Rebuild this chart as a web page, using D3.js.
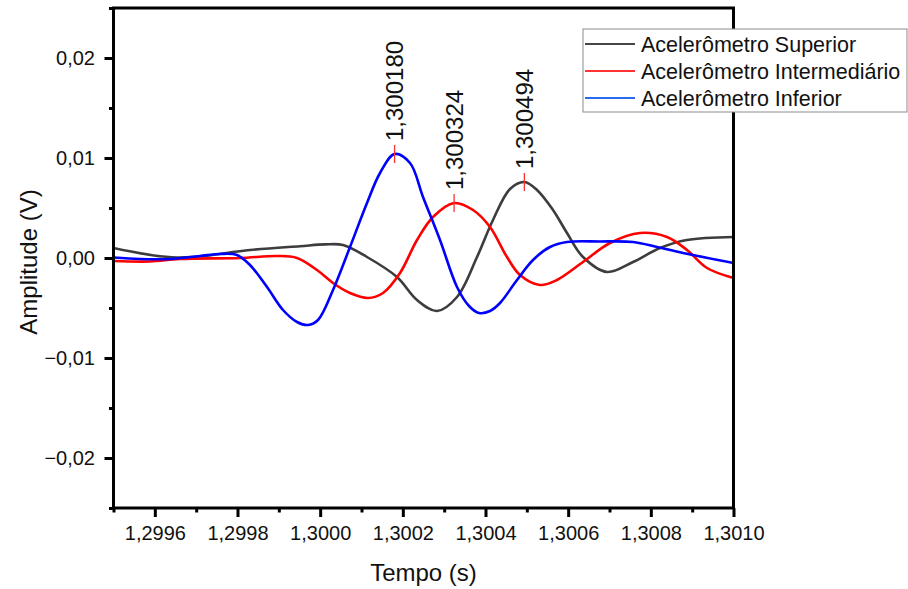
<!DOCTYPE html>
<html>
<head>
<meta charset="utf-8">
<script src="https://cdn.jsdelivr.net/npm/d3@7"></script>
<style>
  html, body { margin: 0; padding: 0; background: #fff; }
  svg { display: block; font-family: "Liberation Sans", Arial, sans-serif; }
</style>
</head>
<body>
<svg id="chart" width="908" height="589"></svg>
<script>
// ---- Data ----
const seriesNames = ["Acelerômetro Superior", "Acelerômetro Intermediário", "Acelerômetro Inferior"];

const supTime = [1.2995, 1.2996536, 1.2998302, 1.2999512, 1.3000117, 1.3000553, 1.3001133, 1.3001859, 1.3002343, 1.3002827, 1.3003311, 1.3003795, 1.3004181, 1.3004593, 1.300494, 1.3005246, 1.3005633, 1.3005972, 1.3006359, 1.300694, 1.3007569, 1.3008222, 1.3008875, 1.3010];
const supAmp  = [0.0010, 0.00005, 0.0008, 0.00118, 0.00136, 0.0013, 0.0001, -0.0019, -0.0042, -0.0053, -0.0039, 0.0001, 0.0038, 0.0069, 0.0076, 0.0068, 0.0048, 0.0025, 0.0001, -0.0014, -0.0004, 0.0010, 0.0018, 0.0021];

const intTime = [1.2995, 1.2995883, 1.2996609, 1.2998061, 1.2998956, 1.299944, 1.2999923, 1.3000311, 1.3000722, 1.3001157, 1.300152, 1.3001932, 1.3002343, 1.300273, 1.300324, 1.3003698, 1.3004109, 1.300452, 1.3004835, 1.3005319, 1.300573, 1.3006359, 1.3007012, 1.3007739, 1.3008391, 1.3008875, 1.3009359, 1.3010];
const intAmp  = [-0.0003, -0.00035, -0.0001, 0.0, 0.0002, 0.0, -0.0012, -0.0025, -0.0035, -0.0040, -0.0035, -0.0015, 0.0018, 0.0041, 0.0055, 0.0048, 0.0031, 0.0001, -0.0017, -0.0027, -0.0022, -0.0004, 0.0015, 0.0025, 0.0021, 0.0008, -0.0010, -0.0020];

const infTime = [1.2995, 1.2995641, 1.2996367, 1.2997093, 1.2997577, 1.2997988, 1.2998302, 1.2998714, 1.2999101, 1.299944, 1.2999706, 1.2999948, 1.3000311, 1.3000722, 1.3001133, 1.3001448, 1.300180, 1.3002174, 1.3002488, 1.3002899, 1.3003311, 1.3003601, 1.3003843, 1.3004109, 1.3004351, 1.3004762, 1.300515, 1.3005561, 1.3005972, 1.300677, 1.3007569, 1.3008149, 1.3008778, 1.3010];
const infAmp  = [0.00005, -0.0001, -0.0001, 0.0002, 0.0004, 0.0003, -0.0007, -0.0029, -0.0052, -0.0064, -0.0067, -0.0062, -0.0032, 0.0011, 0.0055, 0.0085, 0.0104, 0.0095, 0.0061, 0.0018, -0.0029, -0.0048, -0.0055, -0.0053, -0.0045, -0.0022, -0.0002, 0.0011, 0.0016, 0.00165, 0.0016, 0.0011, 0.0005, -0.0005];

const peakTimes  = [1.300180, 1.300324, 1.300494];
const peakAmps   = [0.0104, 0.0055, 0.0076];
const peakLabels = ["1,300180", "1,300324", "1,300494"];

const xTicks = [1.2996, 1.2998, 1.3000, 1.3002, 1.3004, 1.3006, 1.3008, 1.3010];
const xMinorTicks = [1.2995, 1.2997, 1.2999, 1.3001, 1.3003, 1.3005, 1.3007, 1.3009];
const yTicks = [-0.02, -0.01, 0.00, 0.01, 0.02];
const yMinorTicks = [-0.025, -0.015, -0.005, 0.005, 0.015, 0.025];

const xTitle = "Tempo (s)";
const yTitle = "Amplitude (V)";

// ---- Setup ----
(function () {
const colors = ["#3d3d3d", "#ff0000", "#0000ff"];
const legendColors = ["#474747", "#ff3333", "#2a6cf0"];

const svg = d3.select("#chart");
const pL = 113.5, pR = 733.5, pT = 8, pB = 508;

const x = d3.scaleLinear().domain([1.2995, 1.3010]).range([pL, pR]);
const y = d3.scaleLinear().domain([-0.025, 0.025]).range([pB, pT]);

const loc = d3.formatLocale({decimal: ",", thousands: ".", grouping: [3], currency: ["", ""], minus: "\u2212"});
const fx = loc.format(".4f");
const fy = loc.format(".2f");

svg.append("defs").append("clipPath").attr("id", "clip")
  .append("rect").attr("x", pL).attr("y", pT).attr("width", pR - pL).attr("height", pB - pT);

const series = [
  {t: supTime, v: supAmp},
  {t: intTime, v: intAmp},
  {t: infTime, v: infAmp}
];
const line = d3.line().x(d => x(d[0])).y(d => y(d[1])).curve(d3.curveCatmullRom.alpha(0.5));
const g = svg.append("g").attr("clip-path", "url(#clip)");
series.forEach((s, i) => {
  const pts = s.t.map((t, k) => [t, s.v[k]]);
  g.append("path").datum(pts)
    .attr("d", line)
    .attr("fill", "none")
    .attr("stroke", colors[i])
    .attr("stroke-width", 2.6)
    .attr("stroke-linejoin", "round");
});

peakTimes.forEach((t, i) => {
  const px = x(t), py = y(peakAmps[i]);
  svg.append("line")
    .attr("x1", px).attr("x2", px)
    .attr("y1", py - 9).attr("y2", py + 9)
    .attr("stroke", "#ff3030").attr("stroke-width", 1.3);
  svg.append("text")
    .attr("transform", `translate(${px + 8.5},${py - 13}) rotate(-90)`)
    .attr("text-anchor", "start")
    .attr("font-size", 24)
    .attr("fill", "#111")
    .text(peakLabels[i]);
});

const xAxis = d3.axisBottom(x).tickValues(xTicks).tickFormat(fx).tickSize(9).tickSizeOuter(0).tickPadding(9);
const gx = svg.append("g").attr("transform", `translate(0,${pB})`).call(xAxis);
gx.select(".domain").remove();
gx.selectAll(".tick line").attr("stroke", "#000").attr("stroke-width", 3);
gx.selectAll(".tick text").attr("font-size", 20).attr("fill", "#111").attr("font-family", "Liberation Sans, Arial, sans-serif");

const xMinor = d3.axisBottom(x).tickValues(xMinorTicks).tickFormat("").tickSize(4.5).tickSizeOuter(0);
const gxm = svg.append("g").attr("transform", `translate(0,${pB})`).call(xMinor);
gxm.select(".domain").remove();
gxm.selectAll(".tick line").attr("stroke", "#000").attr("stroke-width", 3);

const yAxis = d3.axisLeft(y).tickValues(yTicks).tickFormat(fy).tickSize(9).tickSizeOuter(0).tickPadding(9.5);
const gy = svg.append("g").attr("transform", `translate(${pL},0)`).call(yAxis);
gy.select(".domain").remove();
gy.selectAll(".tick line").attr("stroke", "#000").attr("stroke-width", 3);
gy.selectAll(".tick text").attr("font-size", 20).attr("fill", "#111").attr("font-family", "Liberation Sans, Arial, sans-serif");

const yMinor = d3.axisLeft(y).tickValues(yMinorTicks).tickFormat("").tickSize(4.5).tickSizeOuter(0);
const gym = svg.append("g").attr("transform", `translate(${pL},0)`).call(yMinor);
gym.select(".domain").remove();
gym.selectAll(".tick line").attr("stroke", "#000").attr("stroke-width", 3);

svg.append("rect")
  .attr("x", pL).attr("y", pT)
  .attr("width", pR - pL).attr("height", pB - pT)
  .attr("fill", "none").attr("stroke", "#000").attr("stroke-width", 3);

svg.append("text")
  .attr("x", (pL + pR) / 2).attr("y", 581)
  .attr("text-anchor", "middle").attr("font-size", 24).attr("fill", "#111")
  .text(xTitle);
svg.append("text")
  .attr("transform", `translate(37,${(pT + pB) / 2 + 4}) rotate(-90)`)
  .attr("text-anchor", "middle").attr("font-size", 24).attr("fill", "#111")
  .text(yTitle);

const lg = svg.append("g");
lg.append("rect")
  .attr("x", 583).attr("y", 29).attr("width", 324).attr("height", 83)
  .attr("fill", "#fff").attr("stroke", "#8c8c8c").attr("stroke-width", 1);
const rowY = [44, 71, 98];
seriesNames.forEach((name, i) => {
  lg.append("line")
    .attr("x1", 585).attr("x2", 635)
    .attr("y1", rowY[i]).attr("y2", rowY[i])
    .attr("stroke", legendColors[i]).attr("stroke-width", 2.2);
  lg.append("text")
    .attr("x", 641).attr("y", rowY[i] + 7.5)
    .attr("font-size", 21.5).attr("fill", "#111")
    .text(name);
});
})();
</script>
</body>
</html>
